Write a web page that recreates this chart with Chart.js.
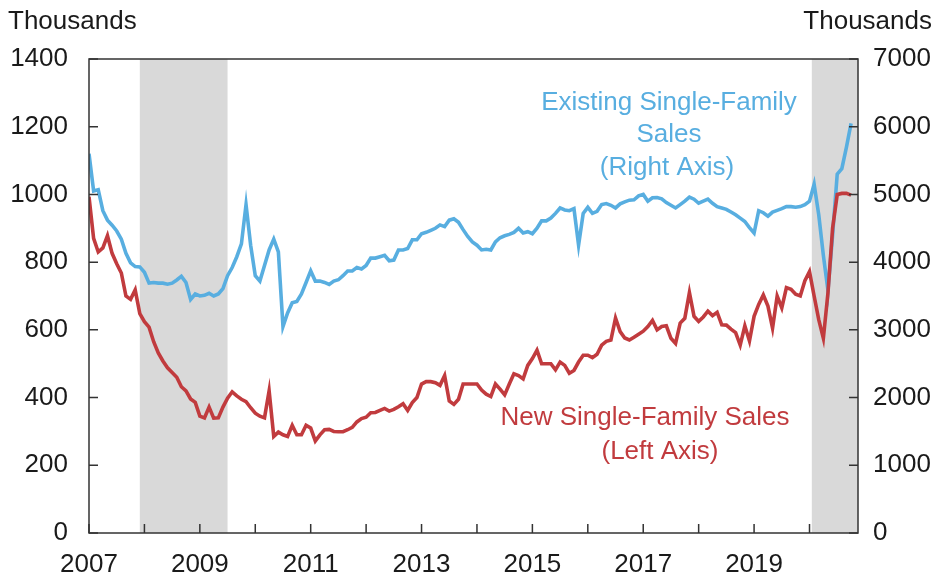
<!DOCTYPE html>
<html>
<head>
<meta charset="utf-8">
<script src="https://cdn.jsdelivr.net/npm/chart.js@4/dist/chart.umd.min.js"></script>
<style>
  html, body { margin: 0; padding: 0; background: #fff; }
  #wrap { width: 943px; height: 578px; position: relative; }
</style>
</head>
<body>
<div id="wrap"><canvas id="myChart"></canvas></div>
<script>
// monthly, Jan 2007 .. Oct 2020, thousands (SAAR)
var START_YEAR = 2007;

var newSales = [
  993, 870, 830, 842, 878, 826, 795, 768, 700, 690, 718, 648,
  624, 608, 565, 532, 508, 488, 474, 460, 432, 420, 396, 386,
  345, 340, 372, 339, 340, 372, 398, 417, 405, 395, 388, 370,
  354, 345, 340, 420, 285, 298, 290, 285, 318, 290, 290, 318,
  310, 272, 290, 305, 306, 300, 299, 299, 305, 312, 328, 338,
  342, 355, 356, 362, 368, 360, 365, 373, 382, 362, 385, 400,
  440, 447, 447, 444, 436, 465, 390, 380, 395, 440, 440, 440,
  440, 422, 410, 403, 440, 425, 408, 440, 470, 465, 455, 495,
  515, 540, 500, 500, 500, 482, 505, 495, 472, 480, 505, 525,
  525, 518, 528, 555, 566, 570, 635, 595, 576, 570, 578, 587,
  596, 610, 628, 600, 610, 612, 575, 560, 620, 634, 710, 640,
  625, 638, 655, 642, 652, 615, 614, 602, 592, 555, 612, 567,
  640, 675, 703, 670, 605, 700, 665, 725, 720, 705, 700, 745,
  772, 700, 630, 575, 710, 900, 1000, 1003, 1003, 998
];

var existingSales = [
  5600, 5050, 5070, 4760, 4620, 4545, 4460, 4340, 4130, 3990, 3934, 3930,
  3850, 3690, 3700, 3690, 3690, 3675, 3690, 3737, 3790, 3700, 3450, 3530,
  3500, 3510, 3540, 3500, 3530, 3610, 3800, 3920, 4080, 4270, 4850, 4250,
  3800, 3720, 3950, 4180, 4340, 4150, 3050, 3250, 3400, 3420, 3530, 3700,
  3870, 3720, 3720, 3700, 3670, 3720, 3740, 3800, 3870, 3870, 3920, 3900,
  3950, 4060, 4060, 4080, 4100, 4020, 4030, 4180, 4180, 4200, 4330, 4330,
  4420, 4440, 4470, 4500, 4550, 4525, 4620, 4640, 4590, 4480, 4380, 4300,
  4250, 4180, 4190, 4180, 4300, 4360, 4390, 4410, 4440, 4500, 4430, 4450,
  4420, 4500, 4610, 4610, 4650, 4720, 4800, 4770, 4760, 4790, 4250, 4720,
  4810, 4720, 4750, 4850, 4865, 4840, 4800, 4860, 4890, 4915, 4920, 4980,
  5000, 4900, 4950, 4955, 4935, 4880, 4840, 4800, 4850, 4900, 4960, 4930,
  4870, 4900, 4930, 4870, 4820, 4800, 4780, 4740, 4700, 4650, 4600, 4510,
  4430, 4760, 4730, 4680, 4740, 4765, 4790, 4820, 4820, 4810, 4820, 4850,
  4900, 5150, 4700, 4100, 3580, 4400, 5300, 5380, 5700, 6050
];

// recessions, in months from Jan 2007
var recessions = [[11, 30], [156.5, 166.5]];

var yearTicks = [0, 12, 24, 36, 48, 60, 72, 84, 96, 108, 120, 132, 144, 156];
var leftTicks = [0, 200, 400, 600, 800, 1000, 1200, 1400];
var rightTicks = [0, 1000, 2000, 3000, 4000, 5000, 6000, 7000];

var BLUE = '#58aee0';
var RED = '#c13b3e';
var FONT = '"Liberation Sans", Arial, sans-serif';

function toPoints(arr) {
  return arr.map(function(v, i) { return { x: i, y: v }; });
}

var decor = {
  id: 'decor',
  beforeDatasetsDraw: function(chart) {
    var ctx = chart.ctx, a = chart.chartArea, x = chart.scales.x;
    ctx.save();
    ctx.fillStyle = '#d9d9d9';
    recessions.forEach(function(r) {
      var x0 = x.getPixelForValue(r[0]), x1 = Math.min(x.getPixelForValue(r[1]), a.right);
      ctx.fillRect(x0, a.top, x1 - x0, a.bottom - a.top);
    });
    ctx.restore();
  },
  afterDraw: function(chart) {
    var ctx = chart.ctx, a = chart.chartArea;
    var sx = chart.scales.x, yl = chart.scales.y, yr = chart.scales.y2;
    ctx.save();
    ctx.strokeStyle = '#333';
    ctx.lineWidth = 1.5;
    ctx.strokeRect(a.left, a.top, a.right - a.left, a.bottom - a.top);
    ctx.beginPath();
    yearTicks.forEach(function(v) {
      var px = sx.getPixelForValue(v);
      ctx.moveTo(px, a.bottom); ctx.lineTo(px, a.bottom - 9);
    });
    leftTicks.forEach(function(v) {
      var py = yl.getPixelForValue(v);
      ctx.moveTo(a.left, py); ctx.lineTo(a.left + 9, py);
    });
    rightTicks.forEach(function(v) {
      var py = yr.getPixelForValue(v);
      ctx.moveTo(a.right, py); ctx.lineTo(a.right - 9, py);
    });
    ctx.stroke();

    ctx.font = '26px ' + FONT;
    ctx.textBaseline = 'middle';
    ctx.fillStyle = '#1a1a1a';
    ctx.textAlign = 'left';
    ctx.fillText('Thousands', 8, 22);
    ctx.textAlign = 'right';
    ctx.fillText('Thousands', 932, 22);

    ctx.textAlign = 'center';
    ctx.fillStyle = BLUE;
    ctx.fillText('Existing Single-Family', 669, 103);
    ctx.fillText('Sales', 669, 135);
    ctx.fillText('(Right Axis)', 667, 168);
    ctx.fillStyle = RED;
    ctx.fillText('New Single-Family Sales', 645, 418);
    ctx.fillText('(Left Axis)', 660, 452);
    ctx.restore();
  }
};

function plain(v) { return String(v); }

var ctx = document.getElementById('myChart').getContext('2d');
var chart = new Chart(ctx, {
  type: 'line',
  data: {
    datasets: [{
      label: 'New Single-Family Sales',
      data: toPoints(newSales),
      yAxisID: 'y',
      borderColor: RED,
      borderWidth: 3.6,
      pointRadius: 0,
      tension: 0
    }, {
      label: 'Existing Single-Family Sales',
      data: toPoints(existingSales),
      yAxisID: 'y2',
      borderColor: BLUE,
      borderWidth: 3.6,
      pointRadius: 0,
      tension: 0
    }]
  },
  options: {
    responsive: true,
    maintainAspectRatio: false,
    animation: false,
    layout: { padding: { top: 59, left: 0, right: 0, bottom: 0 } },
    plugins: { legend: { display: false }, tooltip: { enabled: false } },
    scales: {
      x: {
        type: 'linear',
        min: 0,
        max: 166.5,
        grid: { display: false },
        border: { display: false },
        afterBuildTicks: function(s) { s.ticks = yearTicks.map(function(v) { return { value: v }; }); },
        afterFit: function(s) { s.height = 45; },
        ticks: {
          autoSkip: false,
          maxRotation: 0,
          padding: 8,
          color: '#1a1a1a',
          font: { family: FONT, size: 26 },
          callback: function(v) { return v % 24 === 0 ? String(START_YEAR + v / 12) : ''; }
        }
      },
      y: {
        position: 'left',
        min: 0,
        max: 1400,
        grid: { display: false },
        border: { display: false },
        afterBuildTicks: function(s) { s.ticks = leftTicks.map(function(v) { return { value: v }; }); },
        afterFit: function(s) { s.width = 89; },
        ticks: { padding: 13, color: '#1a1a1a', font: { family: FONT, size: 26 }, callback: plain }
      },
      y2: {
        position: 'right',
        min: 0,
        max: 7000,
        grid: { display: false },
        border: { display: false },
        afterBuildTicks: function(s) { s.ticks = rightTicks.map(function(v) { return { value: v }; }); },
        afterFit: function(s) { s.width = 85; },
        ticks: { padding: 7, color: '#1a1a1a', font: { family: FONT, size: 26 }, callback: plain }
      }
    }
  },
  plugins: [decor]
});
</script>
</body>
</html>
